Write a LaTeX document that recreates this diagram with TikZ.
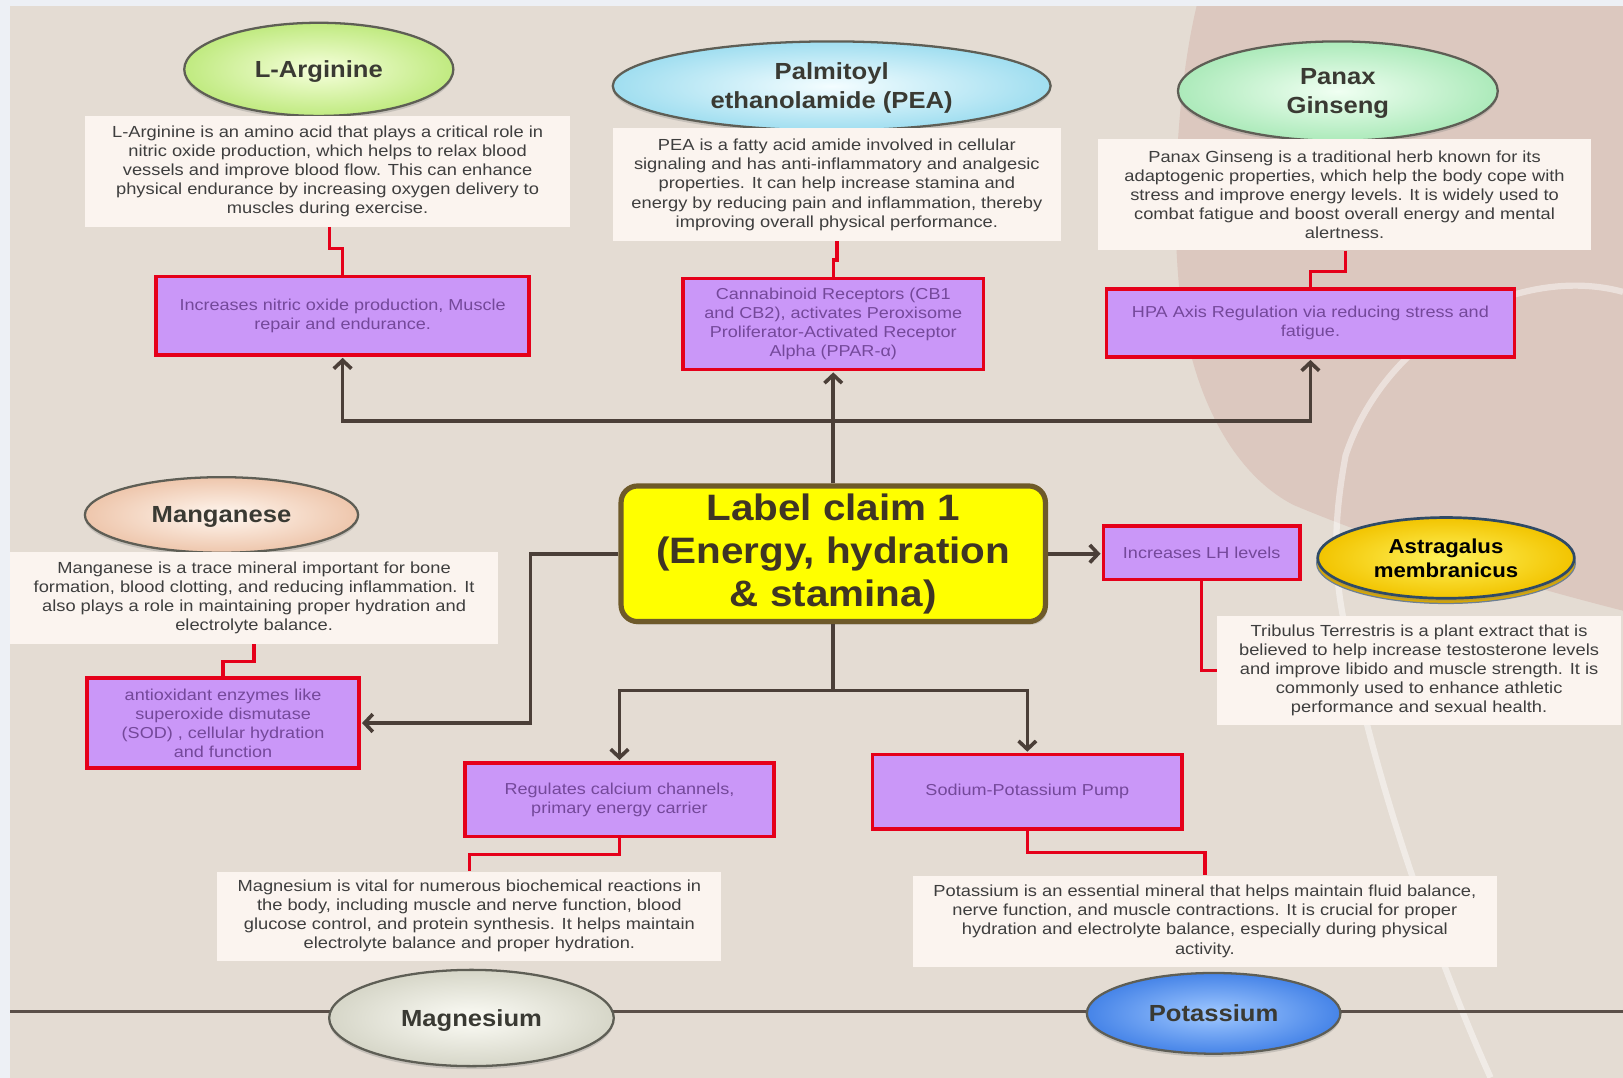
\documentclass[tikz,border=0pt]{standalone}
\usepackage{fontspec}
\setmainfont{Liberation Sans}
\newfontfamily\stretchfont[FakeStretch=1.14]{Liberation Sans}
\newfontfamily\titlefont[FakeStretch=1.1]{Liberation Sans}
\usetikzlibrary{shapes.geometric,arrows.meta,shadows}

\definecolor{framebg}{HTML}{EDF0F5}
\definecolor{pagebg}{HTML}{E4DCD3}
\definecolor{rosebg}{HTML}{DCC8BF}
\definecolor{descbg}{HTML}{FBF4EF}
\definecolor{descfg}{HTML}{3E3E3E}
\definecolor{actfill}{HTML}{CA97F8}
\definecolor{actline}{HTML}{E5001A}
\definecolor{actfg}{HTML}{74489A}
\definecolor{conncol}{HTML}{4B3F38}
\definecolor{axiscol}{HTML}{5A4F48}
\definecolor{titlefg}{HTML}{3A3A33}
\definecolor{herbline}{HTML}{5E5E55}
\definecolor{hubfill}{HTML}{FFFF00}
\definecolor{hubline}{HTML}{6E5A2A}
\definecolor{hubfg}{HTML}{3F3524}
\definecolor{goldrim}{HTML}{D9A800}
\definecolor{navyline}{HTML}{2F4A66}

\begin{document}
\begin{tikzpicture}[x=1pt,y=-1pt,
  herb/.style={ellipse, draw=herbline, line width=2.2pt, inner sep=0pt,
    align=center, text=titlefg, text depth=0pt,
    font=\titlefont\bfseries\fontsize{22.5}{28}\selectfont,
    drop shadow={opacity=0.3, shadow xshift=0pt, shadow yshift=-3pt}},
  descbox/.style={rectangle, fill=descbg, inner sep=0pt, align=center,
    text=descfg, font=\stretchfont\fontsize{15.5}{18.5}\selectfont},
  actbox/.style={rectangle, fill=actfill, draw=actline, line width=3.5pt,
    inner sep=0pt, align=center, text=actfg,
    font=\stretchfont\fontsize{15.3}{18.3}\selectfont},
  hubbox/.style={rectangle, rounded corners=16pt, fill=hubfill, draw=hubline,
    line width=5pt, inner sep=0pt, align=center, text=hubfg,
    font=\titlefont\bfseries\fontsize{35.5}{41.5}\selectfont,
    drop shadow={opacity=0.3, shadow xshift=2pt, shadow yshift=-3pt}},
  conn/.style={draw=conncol, line width=3.5pt,
    -{Straight Barb[length=8pt,width=17pt]}, shorten >=1pt},
  plainconn/.style={draw=conncol, line width=3.5pt},
  redlink/.style={draw=actline, line width=3.2pt},
  axisline/.style={draw=axiscol, line width=3pt}
]
\useasboundingbox (0,0) rectangle (1568,1041);

% page background
\fill[framebg] (0,0) rectangle (1568,1041);
\fill[pagebg] (10,6) rectangle (1568,1041);
\fill[rosebg] (1156,6) .. controls (1136,90) and (1130,220) .. (1142,300)
  .. controls (1155,390) and (1195,460) .. (1250,488)
  .. controls (1350,530) and (1470,565) .. (1568,590) -- (1568,6) -- cycle;
\draw[white, opacity=0.45, line width=6pt]
  (1568,282) .. controls (1470,255) and (1340,320) .. (1300,440)
  .. controls (1285,520) and (1290,570) .. (1305,630)
  .. controls (1330,760) and (1390,930) .. (1440,1041);

% horizontal rule along the bottom
\coordinate (axL) at (10,977);
\coordinate (axR) at (1568,977);
\draw[axisline] (axL) -- (axR);

% ingredient ellipses
\node[herb, minimum width=260pt, minimum height=90pt,
  inner color={rgb,255:red,246;green,255;blue,220}, outer color={rgb,255:red,192;green,234;blue,128}]
  (argT) at (308,67) {L-Arginine};
\node[herb, minimum width=423pt, minimum height=86pt,
  inner color={rgb,255:red,244;green,253;blue,255}, outer color={rgb,255:red,160;green,222;blue,240}]
  (peaT) at (803.5,83) {Palmitoyl\\ethanolamide (PEA)};
\node[herb, minimum width=309pt, minimum height=96pt,
  inner color={rgb,255:red,240;green,255;blue,242}, outer color={rgb,255:red,172;green,234;blue,186}]
  (ginT) at (1292.5,88) {Panax\\Ginseng};
\node[herb, minimum width=264pt, minimum height=73pt,
  inner color={rgb,255:red,255;green,247;blue,240}, outer color={rgb,255:red,238;green,198;blue,172}]
  (mnT) at (214,497.5) {Manganese};
\fill[goldrim, draw=navyline!70, line width=1.2pt] (1397,544) ellipse [x radius=125, y radius=39];
\node[herb, minimum width=248pt, minimum height=78pt, draw=navyline, line width=2.6pt,
  text=black, font=\titlefont\bfseries\fontsize{19.5}{23}\selectfont,
  inner color={rgb,255:red,255;green,242;blue,90}, outer color={rgb,255:red,242;green,196;blue,0}]
  (astT) at (1397,539) {Astragalus\\membranicus};
\node[herb, minimum width=275pt, minimum height=93pt,
  inner color={rgb,255:red,252;green,252;blue,246}, outer color={rgb,255:red,214;green,214;blue,200}]
  (mgT) at (455.5,983.5) {Magnesium};
\node[herb, minimum width=245pt, minimum height=78pt,
  inner color={rgb,255:red,160;green,200;blue,255}, outer color={rgb,255:red,70;green,132;blue,232}]
  (kT) at (1172.5,979) {Potassium};

% description panels
\node[descbox, minimum width=469pt, minimum height=107pt] (argD) at (316.5,165.5)
  {L-Arginine is an amino acid that plays a critical role in\\
   nitric oxide production, which helps to relax blood\\
   vessels and improve blood flow. This can enhance\\
   physical endurance by increasing oxygen delivery to\\
   muscles during exercise.};
\node[descbox, minimum width=433pt, minimum height=109pt] (peaD) at (808.5,178.5)
  {PEA is a fatty acid amide involved in cellular\\
   signaling and has anti-inflammatory and analgesic\\
   properties. It can help increase stamina and\\
   energy by reducing pain and inflammation, thereby\\
   improving overall physical performance.};
\node[descbox, minimum width=476pt, minimum height=108pt] (ginD) at (1299,188)
  {Panax Ginseng is a traditional herb known for its\\
   adaptogenic properties, which help the body cope with\\
   stress and improve energy levels. It is widely used to\\
   combat fatigue and boost overall energy and mental\\
   alertness.};
\node[descbox, minimum width=471pt, minimum height=89pt] (mnD) at (245.5,577.5)
  {Manganese is a trace mineral important for bone\\
   formation, blood clotting, and reducing inflammation. It\\
   also plays a role in maintaining proper hydration and\\
   electrolyte balance.};
\node[descbox, minimum width=390pt, minimum height=105pt] (triD) at (1371,647.5)
  {Tribulus Terrestris is a plant extract that is\\
   believed to help increase testosterone levels\\
   and improve libido and muscle strength. It is\\
   commonly used to enhance athletic\\
   performance and sexual health.};
\node[descbox, minimum width=487pt, minimum height=86pt] (mgD) at (453.5,885)
  {Magnesium is vital for numerous biochemical reactions in\\
   the body, including muscle and nerve function, blood\\
   glucose control, and protein synthesis. It helps maintain\\
   electrolyte balance and proper hydration.};
\node[descbox, minimum width=564pt, minimum height=88pt] (kD) at (1164,890)
  {Potassium is an essential mineral that helps maintain fluid balance,\\
   nerve function, and muscle contractions. It is crucial for proper\\
   hydration and electrolyte balance, especially during physical\\
   activity.};

% mechanism boxes
\node[actbox, minimum width=360pt, minimum height=76pt] (argA) at (331,305)
  {Increases nitric oxide production, Muscle\\repair and endurance.};
\node[actbox, minimum width=290pt, minimum height=88pt] (peaA) at (805,313)
  {Cannabinoid Receptors (CB1\\and CB2), activates Peroxisome\\Proliferator-Activated Receptor\\Alpha (PPAR-α)};
\node[actbox, minimum width=394pt, minimum height=66pt] (ginA) at (1266,312)
  {HPA Axis Regulation via reducing stress and\\fatigue.};
\node[actbox, minimum width=190pt, minimum height=52pt] (lhA) at (1161,534)
  {Increases LH levels};
\node[actbox, minimum width=263pt, minimum height=87pt] (mnA) at (215.5,698.5)
  {antioxidant enzymes like\\superoxide dismutase\\(SOD) , cellular hydration\\and function};
\node[actbox, minimum width=299pt, minimum height=71pt] (mgA) at (598.5,772.5)
  {Regulates calcium channels,\\primary energy carrier};
\node[actbox, minimum width=299pt, minimum height=72pt] (kA) at (992.5,765)
  {Sodium-Potassium Pump};

% central claim
\node[hubbox, minimum width=410pt, minimum height=131pt] (claim) at (805,535)
  {Label claim 1\\(Energy, hydration\\\& stamina)};

% branching connectors from the claim
\coordinate (ytop) at (0,407);
\coordinate (ybot) at (0,667);
\coordinate (topbar) at (claim.north |- ytop);
\coordinate (botbar) at (claim.south |- ybot);
\draw[conn] (claim.north) -- (claim.north |- peaA.south);
\draw[conn] (topbar) -| (argA.south);
\draw[conn] (topbar) -| (ginA.south);
\draw[conn] (claim.west) -- ++(-85,0) |- (mnA.east);
\draw[conn] (claim.east) -- (claim.east -| lhA.west);
\draw[plainconn] (claim.south) -- (botbar);
\draw[conn] (botbar) -| (mgA.north);
\draw[conn] (botbar) -| (kA.north);

% red links between panels and mechanism boxes
\draw[redlink] ([xshift=1.5pt]argD.south) -- ++(0,21) -| (argA.north);
\draw[redlink] (peaD.south) -- ++(0,18) -| (peaA.north);
\draw[redlink] ([xshift=1pt]ginD.south) -- ++(0,20) -| (ginA.north);
\draw[redlink] (mnD.south) -- ++(0,17) -| (mnA.north);
\draw[redlink] (lhA.south) |- (triD.west);
\draw[redlink] (mgA.south) -- ++(0,16) -| (mgD.north);
\draw[redlink] (kA.south) -- ++(0,21) -| (kD.north);
\end{tikzpicture}
\end{document}
